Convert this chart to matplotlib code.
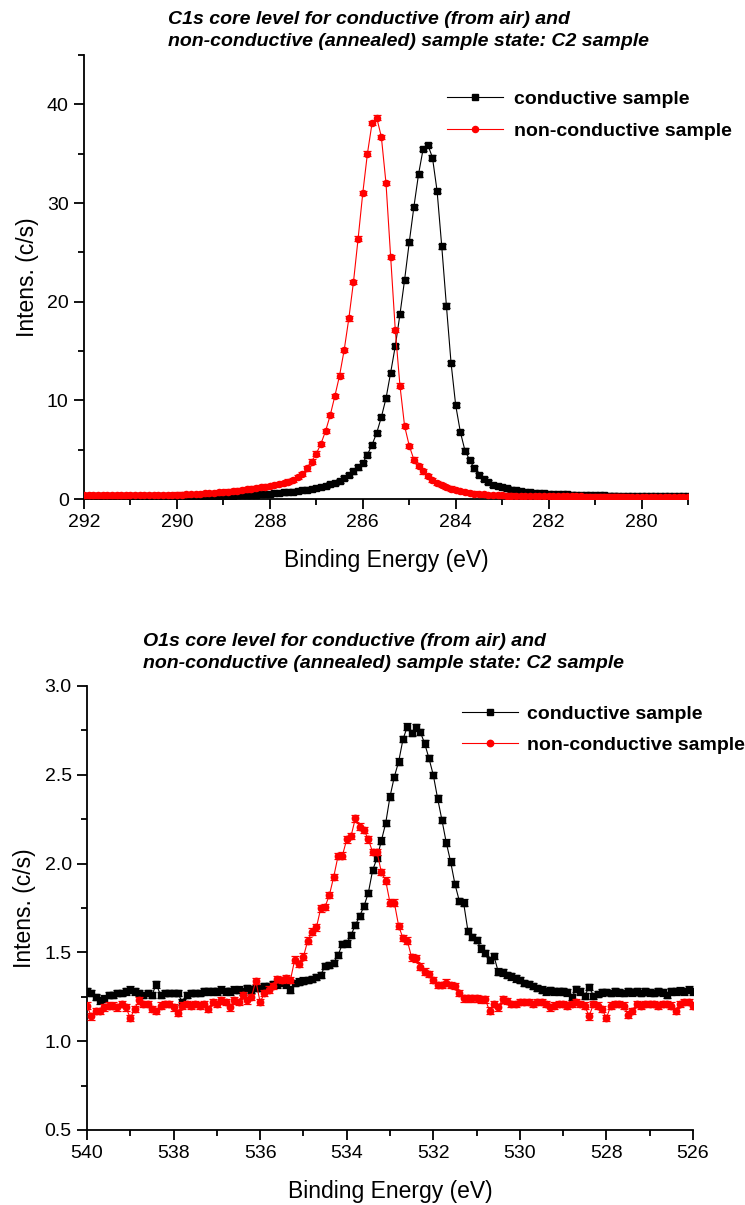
import numpy as np
import matplotlib
matplotlib.use("Agg")
import matplotlib.pyplot as plt
from matplotlib.ticker import MultipleLocator, FormatStrFormatter

plt.rcParams['font.family'] = ['Liberation Sans', 'DejaVu Sans']

# ---------------- C1s core level (0.1 eV steps, 292.0 -> 279.0 eV) ----------------
c1s_energy = np.round(np.arange(292.0, 278.95, -0.1), 1)

c1s_conductive = [
    0.30, 0.30, 0.30, 0.30, 0.30, 0.30, 0.30, 0.30, 0.29, 0.29,
    0.29, 0.29, 0.29, 0.29, 0.29, 0.29, 0.28, 0.28, 0.28, 0.28,
    0.28, 0.28, 0.28, 0.28, 0.28, 0.28, 0.29, 0.29, 0.30, 0.31,
    0.32, 0.33, 0.34, 0.36, 0.38, 0.40, 0.42, 0.45, 0.48, 0.51,
    0.54, 0.58, 0.62, 0.66, 0.71, 0.76, 0.82, 0.88, 0.95, 1.03,
    1.12, 1.22, 1.35, 1.50, 1.65, 1.85, 2.10, 2.40, 2.80, 3.20,
    3.65, 4.50, 5.50, 6.70, 8.30, 10.2, 12.8, 15.5, 18.7, 22.2,
    26.0, 29.6, 32.9, 35.5, 35.9, 34.6, 31.2, 25.6, 19.6, 13.8,
    9.50, 6.80, 4.90, 3.96, 3.10, 2.44, 2.00, 1.70, 1.42, 1.30,
    1.19, 1.08, 0.95, 0.88, 0.80, 0.74, 0.68, 0.63, 0.59, 0.56,
    0.53, 0.51, 0.49, 0.47, 0.46, 0.44, 0.43, 0.42, 0.41, 0.40,
    0.39, 0.37, 0.36, 0.35, 0.34, 0.33, 0.32, 0.31, 0.30, 0.30,
    0.29, 0.29, 0.28, 0.28, 0.27, 0.27, 0.27, 0.26, 0.26, 0.26,
    0.26,
]

c1s_nonconductive = [
    0.36, 0.36, 0.36, 0.36, 0.36, 0.36, 0.37, 0.37, 0.37, 0.37,
    0.38, 0.38, 0.38, 0.39, 0.39, 0.40, 0.40, 0.41, 0.42, 0.43,
    0.44, 0.45, 0.47, 0.49, 0.51, 0.54, 0.57, 0.60, 0.63, 0.67,
    0.71, 0.75, 0.80, 0.85, 0.91, 0.98, 1.05, 1.12, 1.19, 1.26,
    1.33, 1.41, 1.50, 1.62, 1.76, 1.95, 2.20, 2.55, 3.10, 3.80,
    4.60, 5.60, 6.90, 8.50, 10.45, 12.5, 15.1, 18.3, 22.0, 26.4,
    31.0, 35.0, 38.1, 38.65, 36.7, 32.0, 24.5, 17.1, 11.5, 7.40,
    5.40, 4.00, 3.35, 2.80, 2.30, 1.95, 1.65, 1.40, 1.20, 1.05,
    0.90, 0.80, 0.70, 0.62, 0.55, 0.50, 0.46, 0.43, 0.40, 0.38,
    0.36, 0.35, 0.34, 0.33, 0.32, 0.31, 0.30, 0.30, 0.29, 0.29,
    0.28, 0.28, 0.27, 0.27, 0.27, 0.26, 0.26, 0.26, 0.25, 0.25,
    0.25, 0.25, 0.24, 0.24, 0.24, 0.24, 0.24, 0.23, 0.23, 0.23,
    0.23, 0.23, 0.23, 0.22, 0.22, 0.22, 0.22, 0.22, 0.22, 0.22,
    0.22,
]
c1s_err = 0.22

# ---------------- O1s core level (0.1 eV steps, 540.0 -> 526.0 eV) ----------------
o1s_energy = np.round(np.arange(540.0, 525.95, -0.1), 1)

o1s_conductive = [
    1.28, 1.27, 1.25, 1.23, 1.24, 1.26, 1.26, 1.27, 1.27, 1.28,
    1.29, 1.28, 1.27, 1.26, 1.27, 1.26, 1.32, 1.26, 1.27, 1.27,
    1.27, 1.27, 1.22, 1.26, 1.27, 1.27, 1.27, 1.28, 1.28, 1.28,
    1.28, 1.29, 1.28, 1.28, 1.29, 1.29, 1.28, 1.30, 1.29, 1.30,
    1.30, 1.31, 1.31, 1.32, 1.32, 1.33, 1.32, 1.29, 1.327, 1.336,
    1.341, 1.345, 1.349, 1.36, 1.373, 1.424, 1.43, 1.442, 1.485, 1.547,
    1.551, 1.598, 1.654, 1.705, 1.761, 1.836, 1.964, 2.03, 2.129, 2.227,
    2.377, 2.489, 2.574, 2.70, 2.771, 2.734, 2.767, 2.741, 2.677, 2.593,
    2.499, 2.367, 2.245, 2.118, 2.011, 1.885, 1.791, 1.78, 1.622, 1.588,
    1.57, 1.523, 1.495, 1.457, 1.48, 1.392, 1.387, 1.374, 1.365, 1.354,
    1.345, 1.327, 1.323, 1.312, 1.30, 1.29, 1.28, 1.286, 1.28, 1.28,
    1.28, 1.275, 1.248, 1.293, 1.28, 1.256, 1.306, 1.256, 1.267, 1.275,
    1.277, 1.27, 1.28, 1.275, 1.27, 1.28, 1.275, 1.28, 1.27, 1.28,
    1.275, 1.27, 1.28, 1.275, 1.26, 1.28, 1.28, 1.285, 1.28, 1.29,
    1.28,
]

o1s_nonconductive = [
    1.20, 1.14, 1.17, 1.17, 1.19, 1.20, 1.20, 1.19, 1.21, 1.19,
    1.13, 1.18, 1.23, 1.21, 1.21, 1.18, 1.17, 1.20, 1.21, 1.21,
    1.19, 1.16, 1.20, 1.21, 1.20, 1.21, 1.20, 1.21, 1.18, 1.22,
    1.21, 1.23, 1.22, 1.19, 1.23, 1.22, 1.26, 1.23, 1.25, 1.34,
    1.22, 1.27, 1.29, 1.31, 1.35, 1.345, 1.354, 1.345, 1.46, 1.434,
    1.476, 1.566, 1.617, 1.641, 1.748, 1.757, 1.823, 1.926, 2.043, 2.045,
    2.136, 2.155, 2.255, 2.208, 2.19, 2.136, 2.064, 2.064, 1.953, 1.904,
    1.78, 1.78, 1.649, 1.58, 1.566, 1.472, 1.466, 1.42, 1.392, 1.38,
    1.345, 1.317, 1.317, 1.33, 1.317, 1.31, 1.27, 1.241, 1.241, 1.241,
    1.241, 1.235, 1.235, 1.172, 1.21, 1.19, 1.235, 1.225, 1.21, 1.21,
    1.22, 1.22, 1.22, 1.21, 1.22, 1.22, 1.21, 1.19, 1.20, 1.21,
    1.21, 1.20, 1.21, 1.22, 1.21, 1.20, 1.14, 1.21, 1.20, 1.18,
    1.13, 1.20, 1.21, 1.21, 1.20, 1.15, 1.17, 1.21, 1.20, 1.21,
    1.21, 1.21, 1.20, 1.21, 1.21, 1.20, 1.17, 1.21, 1.22, 1.22,
    1.20,
]
o1s_err = 0.018

series_labels = ["conductive sample", "non-conductive sample"]
titles = [
    "C1s core level for conductive (from air) and\n"
    "non-conductive (annealed) sample state: C2 sample",
    "O1s core level for conductive (from air) and\n"
    "non-conductive (annealed) sample state: C2 sample",
]
x_label = "Binding Energy (eV)"
y_label = "Intens. (c/s)"

W, H = 745, 1205
fig = plt.figure(figsize=(W / 100, H / 100), dpi=100)


def px_axes(left, top, right, bottom):
    return fig.add_axes([left / W, 1 - bottom / H, (right - left) / W, (bottom - top) / H])


def style_axes(ax):
    for side in ("top", "right"):
        ax.spines[side].set_visible(False)
    for side in ("left", "bottom"):
        ax.spines[side].set_linewidth(1.3)
    ax.tick_params(which="major", direction="out", length=7, width=1.3,
                   labelsize=14, pad=4, colors="black")
    ax.tick_params(which="minor", direction="out", length=4, width=1.3)
    ax.set_xlabel(x_label, fontsize=16.5, labelpad=13)
    ax.set_ylabel(y_label, fontsize=16.5, labelpad=6)


def draw_pair(ax, x, y_black, y_red, err, ms_sq, ms_ci, cap):
    ax.errorbar(x, y_black, yerr=err, fmt="none", ecolor="black",
                elinewidth=0.9, capsize=cap, capthick=0.9, zorder=2)
    ax.plot(x, y_black, "-", color="black", lw=0.8, marker="s",
            ms=ms_sq, mec="black", mfc="black", label=series_labels[0], zorder=3)
    ax.errorbar(x, y_red, yerr=err, fmt="none", ecolor="red",
                elinewidth=0.9, capsize=cap, capthick=0.9, zorder=4)
    ax.plot(x, y_red, "-", color="red", lw=0.8, marker="o",
            ms=ms_ci, mec="red", mfc="red", label=series_labels[1], zorder=5)


# top panel: C1s
ax1 = px_axes(84, 55, 688, 499)
draw_pair(ax1, c1s_energy, c1s_conductive, c1s_nonconductive, c1s_err, 4.0, 4.4, 2.6)
ax1.set_xlim(292, 279)
ax1.set_ylim(0, 45)
ax1.xaxis.set_major_locator(MultipleLocator(2))
ax1.xaxis.set_minor_locator(MultipleLocator(1))
ax1.yaxis.set_major_locator(MultipleLocator(10))
ax1.yaxis.set_minor_locator(MultipleLocator(5))
style_axes(ax1)
ax1.legend(loc="upper left", bbox_to_anchor=(447 / W, 1 - 90 / H),
           bbox_transform=fig.transFigure, frameon=False, numpoints=1,
           handlelength=2.9, handletextpad=0.55, labelspacing=0.75,
           borderpad=0, borderaxespad=0,
           prop={"weight": "bold", "size": 14})
fig.text(168 / W, 1 - 11 / H, titles[0], ha="left", va="top", fontsize=14,
         fontweight="bold", fontstyle="italic", linespacing=1.35)

# bottom panel: O1s
ax2 = px_axes(87, 686, 693, 1130)
draw_pair(ax2, o1s_energy, o1s_conductive, o1s_nonconductive, o1s_err, 4.0, 4.6, 2.6)
ax2.set_xlim(540, 526)
ax2.set_ylim(0.5, 3.0)
ax2.xaxis.set_major_locator(MultipleLocator(2))
ax2.xaxis.set_minor_locator(MultipleLocator(1))
ax2.yaxis.set_major_locator(MultipleLocator(0.5))
ax2.yaxis.set_minor_locator(MultipleLocator(0.25))
ax2.yaxis.set_major_formatter(FormatStrFormatter("%.1f"))
style_axes(ax2)
ax2.legend(loc="upper left", bbox_to_anchor=(462 / W, 1 - 705 / H),
           bbox_transform=fig.transFigure, frameon=False, numpoints=1,
           handlelength=2.9, handletextpad=0.45, labelspacing=0.7,
           borderpad=0, borderaxespad=0,
           prop={"weight": "bold", "size": 14})
fig.text(143 / W, 1 - 633 / H, titles[1], ha="left", va="top", fontsize=14,
         fontweight="bold", fontstyle="italic", linespacing=1.35)

fig.savefig("out.png", dpi=100, facecolor="white")
